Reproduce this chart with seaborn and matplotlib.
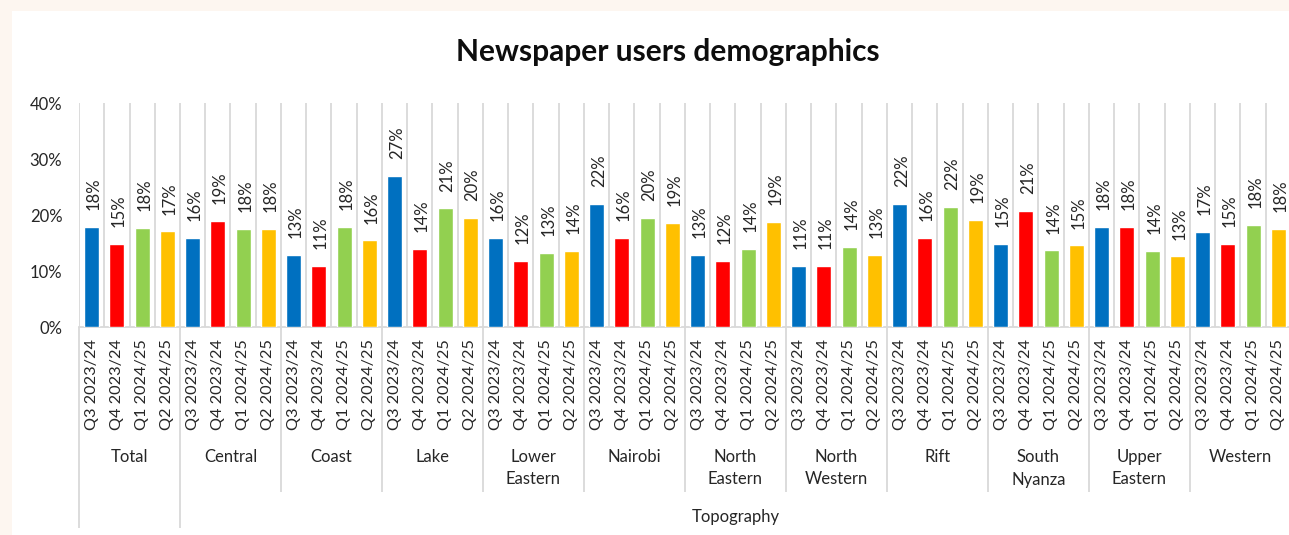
import matplotlib
matplotlib.use("Agg")
import matplotlib.pyplot as plt
from matplotlib.patches import Rectangle
import seaborn as sns
import pandas as pd

# ---- data -------------------------------------------------------------
regions = ["Total", "Central", "Coast", "Lake", "Lower\nEastern", "Nairobi",
           "North\nEastern", "North\nWestern", "Rift", "South\nNyanza",
           "Upper\nEastern", "Western"]
quarters = ["Q3 2023/24", "Q4 2023/24", "Q1 2024/25", "Q2 2024/25"]

q3_2023 = [0.179, 0.159, 0.129, 0.270, 0.159, 0.220, 0.129, 0.109, 0.220, 0.148, 0.179, 0.170]
q4_2023 = [0.148, 0.189, 0.109, 0.139, 0.118, 0.159, 0.118, 0.109, 0.159, 0.208, 0.179, 0.148]
q1_2024 = [0.177, 0.175, 0.179, 0.212, 0.132, 0.195, 0.139, 0.143, 0.215, 0.137, 0.136, 0.182]
q2_2024 = [0.171, 0.175, 0.155, 0.195, 0.136, 0.186, 0.188, 0.129, 0.191, 0.146, 0.126, 0.175]

outer_labels = ["", "Topography"]
colors = ["#0070C0", "#FF0000", "#92D050", "#FFC000"]

# ---- long table -------------------------------------------------------
series = [q3_2023, q4_2023, q1_2024, q2_2024]
rows = []
for r_i, reg in enumerate(regions):
    for q_i, q in enumerate(quarters):
        rows.append({"key": f"{reg}|{q}", "region": reg, "quarter": q,
                     "value": series[q_i][r_i]})
df = pd.DataFrame(rows)
order = list(df["key"])

# ---- style ------------------------------------------------------------
sns.set_style("white")
plt.rcParams["font.family"] = ["Lato", "DejaVu Sans"]
TXT = "#262626"
GRID = "#D9D9D9"
FS = 12

W, H, DPI = 1289, 535, 100
fig = plt.figure(figsize=(W / DPI, H / DPI), dpi=DPI)
fig.patch.set_facecolor("#FDF6F0")
fig.patches.append(Rectangle((12 / W, 0), 1, 1 - 11 / H, transform=fig.transFigure,
                             facecolor="white", edgecolor="none", zorder=-5))

AX_L, AX_R, AX_TOP, AX_BOT = 79, 1291, 103, 327
AX_HPX = AX_BOT - AX_TOP
ax = fig.add_axes([AX_L / W, (H - AX_BOT) / H, (AX_R - AX_L) / W, AX_HPX / H])
ax.set_facecolor("none")

def below(px):
    """axes-fraction y for a distance in pixels under the baseline"""
    return -px / AX_HPX

sns.barplot(data=df, x="key", y="value", hue="quarter", order=order,
            hue_order=quarters, palette=dict(zip(quarters, colors)),
            dodge=False, width=0.6, saturation=1, legend=False, ax=ax, zorder=3)

n = len(order)
ax.set_xlim(-0.5, n - 0.5)
ax.set_ylim(0, 0.40)

# vertical separators between every bar
ax.vlines([i - 0.5 for i in range(n + 1)], 0, 0.40, colors=GRID, lw=1.3, zorder=1)

for s in ["left", "right", "top"]:
    ax.spines[s].set_visible(False)
ax.spines["bottom"].set_color(GRID)
ax.spines["bottom"].set_linewidth(1.3)

# y axis
yt = [0, 0.1, 0.2, 0.3, 0.4]
ax.set_yticks(yt, [f"{v*100:.0f}%" for v in yt])
ax.tick_params(axis="y", length=0, pad=12, labelsize=FS, labelcolor=TXT)

# quarter labels
ax.set_xticks(range(n), [q for _ in regions for q in quarters], rotation=90)
ax.tick_params(axis="x", length=0, pad=9, labelsize=11.7, labelcolor=TXT)
ax.set_xlabel("")
ax.set_ylabel("")

# value labels
for i, v in enumerate(df["value"]):
    ax.annotate(f"{v*100:.0f}%", (i, v), xytext=(1.5, 12), textcoords="offset points",
                rotation=90, ha="center", va="bottom", fontsize=FS, color=TXT,
                annotation_clip=False)

# region level
xt = ax.get_xaxis_transform()
for g, reg in enumerate(regions):
    ax.text(4 * g + 1.5, below(122), reg, transform=xt, ha="center", va="top",
            fontsize=FS, color=TXT, linespacing=1.5)

# group separators below the axis
for g in range(len(regions) + 1):
    depth = 201 if g in (0, 1) else 165
    ax.plot([4 * g - 0.5] * 2, [0, below(depth)], transform=xt, color=GRID,
            lw=1.3, clip_on=False, solid_capstyle="butt")

# outer level
ax.text(0 + 1.5, below(190), outer_labels[0], transform=xt, ha="center", va="center",
        fontsize=FS, color=TXT)
ax.text((4 + n - 1) / 2, below(190), outer_labels[1], transform=xt, ha="center",
        va="center", fontsize=FS, color=TXT)

fig.text(668 / W, 1 - 52 / H, "Newspaper users demographics", ha="center", va="center",
         fontsize=21.5, fontweight="bold", color="#0D0D0D")

fig.savefig("out.png", dpi=DPI, facecolor=fig.get_facecolor())
